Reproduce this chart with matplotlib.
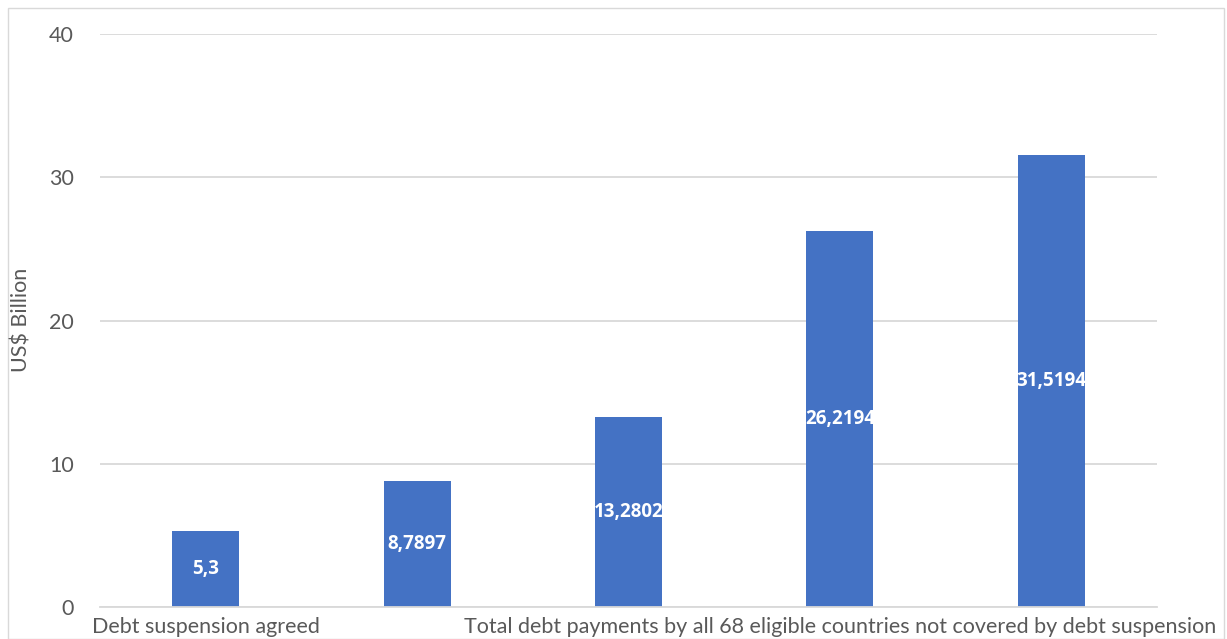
import numpy as np
import matplotlib.pyplot as plt
from matplotlib.patches import Rectangle

# data (US$ billion)
categories = ["Debt suspension agreed", "", "",
              "Total debt payments by all 68 eligible countries not covered by debt suspension", ""]
values = [5.3, 8.7897, 13.2802, 26.2194, 31.5194]
value_labels = ["5,3", "8,7897", "13,2802", "26,2194", "31,5194"]
y_ticks = [0, 10, 20, 30, 40]

plt.rcParams['font.family'] = ['Lato', 'DejaVu Sans']
grey = '#595959'
fs = 15.5

fig = plt.figure(figsize=(12.27, 6.39), dpi=100)
ax = fig.add_axes([100/1227, 32/639, 1057/1227, 573/639])

x = np.arange(len(values))
bars = ax.bar(x, values, width=0.317, color='#4472c4', zorder=2)

# centred value labels, clipped to the bar like the original
for b, lab in zip(bars, value_labels):
    t = ax.text(b.get_x() + b.get_width()/2, b.get_height()/2, lab,
                ha='center', va='center', color='white', fontsize=13.5,
                fontweight='bold', family=['Open Sans', 'DejaVu Sans'], zorder=3)
    t.set_clip_path(b)

ax.set_xlim(-0.5, len(values) - 0.5)
ax.set_ylim(0, 40)
ax.set_yticks(y_ticks)
ax.set_yticklabels([str(v) for v in y_ticks], fontsize=fs, color=grey)
ax.set_xticks(x)
ax.set_xticklabels(categories, fontsize=fs, color=grey)
ax.tick_params(axis='both', length=0)
ax.tick_params(axis='y', pad=19)
ax.tick_params(axis='x', pad=7)
ax.grid(axis='y', color='#d9d9d9', lw=1.3, zorder=0)
for s in ['top', 'right', 'left']:
    ax.spines[s].set_visible(False)
ax.spines['bottom'].set_color('#d9d9d9')
ax.spines['bottom'].set_linewidth(1.3)

fig.text(22/1227, 1 - 320/639, 'US$ Billion', rotation=90, ha='center', va='center',
         fontsize=fs, color=grey)

fig.patches.append(Rectangle((8/1227, 0), 1216/1227, 631/639, transform=fig.transFigure,
                             fill=False, edgecolor='#d9d9d9', lw=1))

fig.savefig('out.png', dpi=100)
